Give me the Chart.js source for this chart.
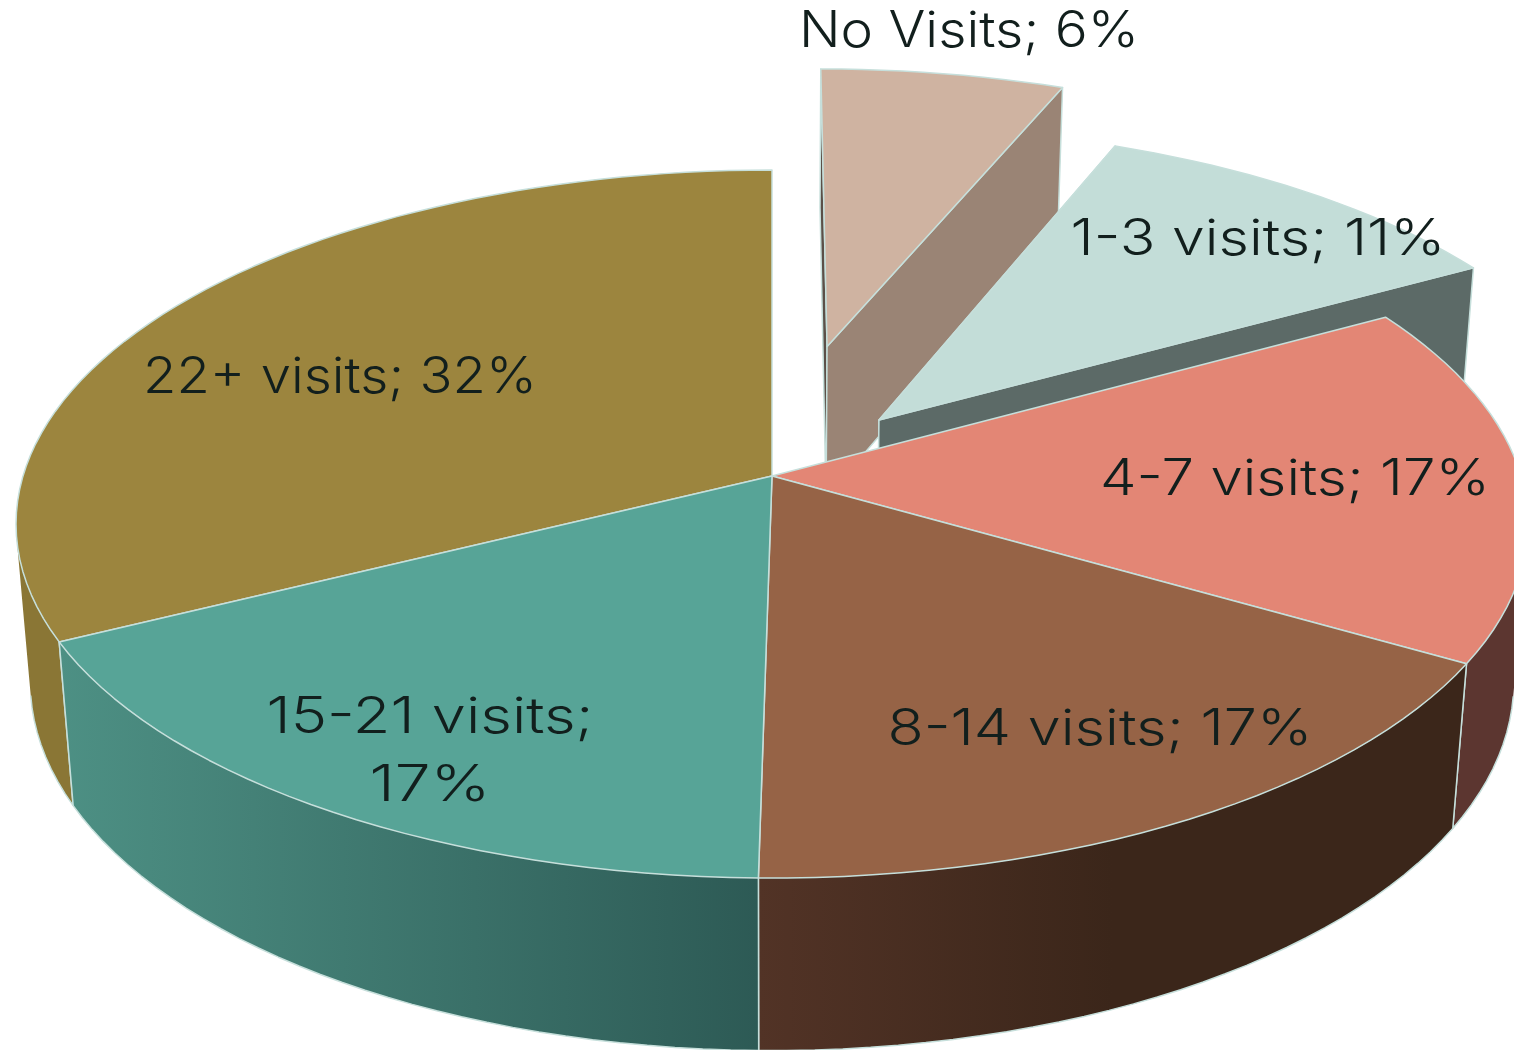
<!DOCTYPE html>
<html>
<head>
<meta charset="utf-8">
<title>Visits</title>
<script src="https://cdn.jsdelivr.net/npm/chart.js@4"></script>
<style>
  html, body { margin: 0; padding: 0; background: #fff; overflow: hidden; }
  canvas { display: block; }
</style>
</head>
<body>
<canvas id="pie" width="1514" height="1050"></canvas>
<script>
// ── Data ─────────────────────────────────────────────────────
const categories = ['No Visits', '1-3 visits', '4-7 visits', '8-14 visits', '15-21 visits', '22+ visits'];
const shares     = [6.2, 10.7, 16.5, 16.85, 17.35, 32.4];

// ── Style ────────────────────────────────────────────────────
const topColors  = ['#cfb3a1', '#c3ddd8', '#e38675', '#966346', '#57a497', '#9c853e'];
const wallColors = [
  ['#9a8475', '#9a8475'],
  ['#5c6a67', '#5c6a67'],
  ['#5c3630', '#5c3630'],
  ['#523326', '#3b261a', '#3b261a'],
  ['#4d9084', '#2d5a55'],
  ['#8a7635', '#8a7635'],
];
const explode    = [0.40, 0.22, 0, 0, 0, 0];               // fraction of the radius
const drawOrder  = [0, 1, 2, 5, 3, 4];                     // back to front
const edgeColor  = '#c6dfdb';

// label layout: centre x, baseline y, width of each line
const labelSpots  = [[969, 47], [1258, 255], [1295, 495], [1100, 745], [430, 733], [340, 393]];
const labelWidths = [[340], [375], [390], [425], [327, 121], [394]];

// camera fitted to the picture: u,v on the unit disc, z=0 top face, z=1 bottom face
const view = { cx: 772, cy: 476, b: 749, a: 347.5, h: 160, p: 0.1356, q: 0.0188 };

function project(u, v, z) {
  const w = 1 - view.p * v + view.q * z;
  return [view.cx + view.b * u / w, view.cy + (view.a * v + view.h * z) / w];
}

function signedArea(pts) {
  let s = 0;
  pts.forEach((p, i) => {
    const n = pts[(i + 1) % pts.length];
    s += p[0] * n[1] - n[0] * p[1];
  });
  return s / 2;
}

// ── 3D slice element ─────────────────────────────────────────
class Slice3D extends Chart.ArcElement {
  static id = 'slice3d';
  static defaults = { ...Chart.ArcElement.defaults };

  rim(z) {
    const { startAngle, endAngle } = this.getProps(['startAngle', 'endAngle']);
    const mid = (startAngle + endAngle) / 2, d = this.options.offset;
    const ox = Math.cos(mid) * d, oy = Math.sin(mid) * d;
    const pts = [];
    const steps = Math.ceil((endAngle - startAngle) * 30);
    for (let i = 0; i <= steps; i++) {
      const a = startAngle + (endAngle - startAngle) * i / steps;
      pts.push(project(Math.cos(a) + ox, Math.sin(a) + oy, z));
    }
    return { pts, apex: project(ox, oy, z) };
  }

  draw(ctx, index) {
    const top = this.rim(0), bot = this.rim(1);
    const last = top.pts.length - 1;
    const addPoly = (pts) => {
      pts.forEach((p, i) => i ? ctx.lineTo(p[0], p[1]) : ctx.moveTo(p[0], p[1]));
      ctx.closePath();
    };
    const poly = (pts, fill) => {
      ctx.beginPath();
      addPoly(pts);
      ctx.fillStyle = fill;
      ctx.fill();
      ctx.stroke();
    };
    ctx.save();
    ctx.lineJoin = 'round';
    ctx.strokeStyle = edgeColor;
    ctx.lineWidth = 1.5;

    // outer wall: only the quads that face the viewer
    const xs = top.pts.concat(bot.pts).map(p => p[0]);
    const grad = ctx.createLinearGradient(Math.min(...xs), 0, Math.max(...xs), 0);
    const stops = wallColors[index];
    stops.forEach((c, i) => grad.addColorStop(i / (stops.length - 1), c));
    const front = [];
    for (let i = 0; i < last; i++) {
      const quad = [top.pts[i], top.pts[i + 1], bot.pts[i + 1], bot.pts[i]];
      if (signedArea(quad) < 0) front.push(i);
    }
    ctx.beginPath();
    front.forEach(i => addPoly([top.pts[i], top.pts[i + 1], bot.pts[i + 1], bot.pts[i]]));
    ctx.fillStyle = grad;
    ctx.fill();
    ctx.beginPath();
    front.forEach(i => {
      ctx.moveTo(bot.pts[i][0], bot.pts[i][1]);
      ctx.lineTo(bot.pts[i + 1][0], bot.pts[i + 1][1]);
    });
    if (front.includes(0)) {
      ctx.moveTo(top.pts[0][0], top.pts[0][1]);
      ctx.lineTo(bot.pts[0][0], bot.pts[0][1]);
    }
    if (front.includes(last - 1)) {
      ctx.moveTo(top.pts[last][0], top.pts[last][1]);
      ctx.lineTo(bot.pts[last][0], bot.pts[last][1]);
    }
    ctx.stroke();

    // cut faces only show on pulled out slices
    if (this.options.offset > 0) {
      poly([top.apex, top.pts[0], bot.pts[0], bot.apex], index === 0 ? '#5b5048' : wallColors[index][0]);
      poly([top.apex, top.pts[last], bot.pts[last], bot.apex], wallColors[index][0]);
    }

    // top face
    poly([top.apex].concat(top.pts), this.options.backgroundColor);
    ctx.restore();
  }
}

class Pie3D extends Chart.PieController {
  static id = 'pie3d';
  static defaults = { ...Chart.PieController.defaults, dataElementType: 'slice3d' };
  draw() {
    const arcs = this._cachedMeta.data;
    drawOrder.forEach(i => arcs[i].draw(this.chart.ctx, i));
  }
}
Chart.register(Slice3D, Pie3D);

// ── Labels ───────────────────────────────────────────────────
function fitText(ctx, text, x, y, width) {
  ctx.save();
  ctx.translate(x, y);
  ctx.scale(width / ctx.measureText(text).width, 1);
  ctx.fillText(text, 0, 0);
  ctx.restore();
}

const sliceLabels = {
  id: 'sliceLabels',
  afterDatasetsDraw(chart) {
    const ctx = chart.ctx;
    ctx.save();
    ctx.font = '300 50px Inter';
    ctx.fillStyle = '#121f1d';
    ctx.textAlign = 'center';
    ctx.textBaseline = 'alphabetic';
    categories.forEach((name, i) => {
      const pct = Math.round(shares[i]) + '%';
      const [x, y] = labelSpots[i];
      const w = labelWidths[i];
      if (w.length > 1) {
        fitText(ctx, name + ';', x, y, w[0]);
        fitText(ctx, pct, x, y + 68, w[1]);
      } else {
        fitText(ctx, name + '; ' + pct, x, y, w[0]);
      }
    });
    ctx.restore();
  }
};

// ── Chart ────────────────────────────────────────────────────
new Chart(document.getElementById('pie'), {
  type: 'pie3d',
  data: {
    labels: categories,
    datasets: [{ data: shares, backgroundColor: topColors, offset: explode, borderWidth: 0 }]
  },
  options: {
    responsive: false,
    animation: false,
    events: [],
    plugins: { legend: { display: false }, tooltip: { enabled: false } }
  },
  plugins: [sliceLabels]
});
</script>
</body>
</html>
